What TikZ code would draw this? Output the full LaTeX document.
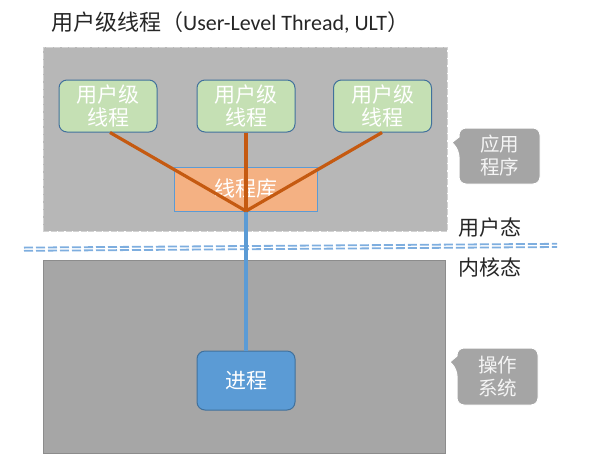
\documentclass[tikz,border=0pt]{standalone}
\usepackage{fontspec}
\setmainfont{Carlito}
\newfontfamily\cjk{Noto Sans CJK SC}
\definecolor{upfill}{HTML}{B7B7B7}
\definecolor{upline}{HTML}{D2D2D2}
\definecolor{lowfill}{HTML}{A6A6A6}
\definecolor{lowline}{HTML}{8C8C8C}
\definecolor{greenfill}{HTML}{C5E0B4}
\definecolor{boxline}{HTML}{41719C}
\definecolor{libfill}{HTML}{F4B183}
\definecolor{libline}{HTML}{5B9BD5}
\definecolor{orangeline}{HTML}{C55A11}
\definecolor{blueline}{HTML}{5B9BD5}
\definecolor{procfill}{HTML}{5B9BD5}
\definecolor{dashblue}{HTML}{7EAEDF}
\definecolor{calloutfill}{HTML}{A5A5A5}
\definecolor{titlecol}{HTML}{262626}
\begin{document}
\begin{tikzpicture}[x=1pt,y=-1pt,
  area/.style={rectangle, inner sep=0pt},
  ultbox/.style={rectangle, rounded corners=8pt, draw=boxline, line width=1pt, fill=greenfill,
    minimum width=98pt, minimum height=52pt, inner sep=0pt, align=center,
    text=white, font=\cjk\fontsize{21}{23}\selectfont},
  libbox/.style={rectangle, draw=libline, line width=0.6pt, fill=libfill,
    minimum width=143pt, minimum height=44pt, inner sep=0pt,
    text=white, font=\cjk\fontsize{21}{23}\selectfont},
  procbox/.style={rectangle, rounded corners=8pt, draw=boxline, line width=1pt, fill=procfill,
    minimum width=98pt, minimum height=59pt, inner sep=0pt,
    text=white, font=\cjk\fontsize{21}{23}\selectfont},
  orange/.style={draw=orangeline, line width=3.2pt},
  bluelink/.style={draw=blueline, line width=3.4pt},
  modelabel/.style={text=titlecol, font=\cjk\fontsize{21}{23}\selectfont, inner sep=0pt},
  callouttext/.style={text=white!92!gray, font=\cjk\fontsize{19.5}{23}\selectfont, align=center, inner sep=0pt},
  callout/.style={fill=calloutfill, draw=white, line width=1pt, rounded corners=7pt},
  dashrow/.style={draw=dashblue, line width=1.8pt, dash pattern=on 9pt off 3pt}
]
\useasboundingbox (0,0) rectangle (592,475);

% title
\node[anchor=west, inner sep=0pt, text=titlecol] (title) at (51,22)
  {\cjk\fontsize{22}{24}\selectfont 用户级线程（\fontspec{Carlito}\fontsize{22}{24}\selectfont User-Level Thread, ULT\cjk\fontsize{22}{24}\selectfont ）};

% areas
\node[area, fill=upfill, draw=upline, line width=0.8pt, dash pattern=on 6pt off 1.5pt,
  minimum width=404pt, minimum height=184pt] (user) at (245,139) {};
\node[area, fill=lowfill, draw=lowline, line width=1pt,
  minimum width=402pt, minimum height=193pt] (kernel) at (244,356.5) {};

% dashed boundary
\coordinate (dl1) at (24,247.6);
\coordinate (dr1) at (557,243.8);
\coordinate (dl2) at (24,250.8);
\coordinate (dr2) at (557,247.0);
\draw[dashrow] (dl1) -- (dr1);
\draw[dashrow] (dl2) -- (dr2);

% nodes
\node[libbox] (lib) at (245.5,189) {线程库};
\node[ultbox] (u1) at (108,106) {用户级\\线程};
\node[ultbox] (u2) at (246,106) {用户级\\线程};
\node[ultbox] (u3) at (382.5,106) {用户级\\线程};
\coordinate (hub) at (246,211);
\node[procbox] (proc) at (246,380.5) {进程};

\draw[bluelink] (hub) -- (proc.north);
\draw[orange] ([xshift=2pt]u1.south) -- (hub);
\draw[orange] (u2.south) -- (hub);
\draw[orange] ([xshift=-0.5pt]u3.south) -- (hub);

% mode labels
\node[modelabel, anchor=west] (umode) at (458,228) {用户态};
\node[modelabel, anchor=west] (kmode) at (458,267) {内核态};

% callouts
\draw[callout] (459,128) -- (540,128) -- (540,184) -- (459,184) -- (459,150) [sharp corners]-- (452,142.5) -- (459,137) [rounded corners=7pt]-- cycle;
\node[callouttext] (app) at (499.5,156) {应用\\程序};
\draw[callout] (457,348) -- (538,348) -- (538,405) -- (457,405) -- (457,369) [sharp corners]-- (450,362) -- (457,356) [rounded corners=7pt]-- cycle;
\node[callouttext] (os) at (497.5,376.5) {操作\\系统};
\end{tikzpicture}
\end{document}
